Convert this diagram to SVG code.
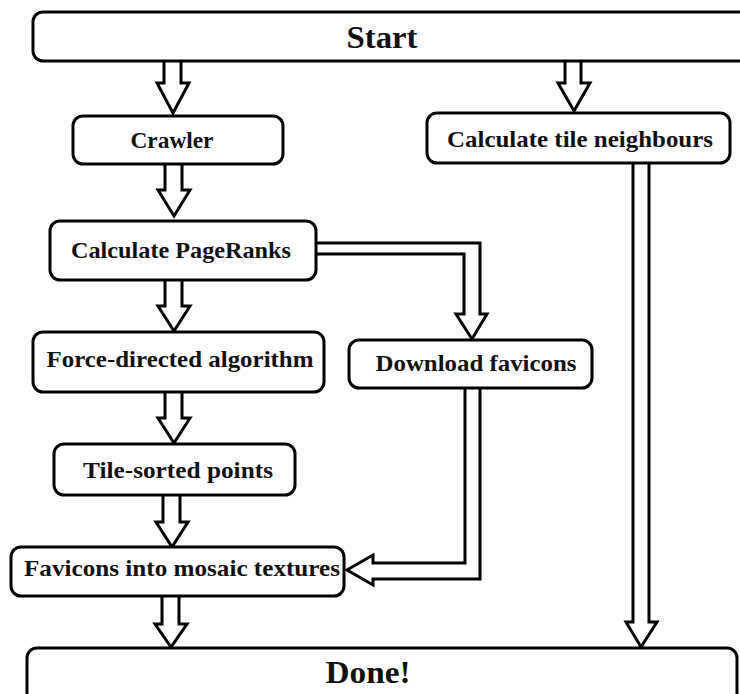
<svg xmlns="http://www.w3.org/2000/svg" width="740" height="694" viewBox="0 0 740 694">
<style>
.box{fill:#fff;stroke:#000;stroke-width:3}
.arr{fill:#fff;stroke:#000;stroke-width:3;stroke-linejoin:miter}
.lbl{font-family:"Liberation Serif","DejaVu Serif",serif;font-weight:bold;font-size:23px;fill:#111;text-anchor:middle;dominant-baseline:central}
.big{font-size:31px}
</style>
<rect width="740" height="694" fill="#fff"/>
<g id="connectors">
<path class="arr" d="M164,61 V83 H157 L173,113 L189,83 H181 V61"/>
<path class="arr" d="M565,61 V83 H558 L574,111 L590,83 H581 V61"/>
<path class="arr" d="M165,164 V190 H158 L174,216 L190,190 H182 V164"/>
<path class="arr" d="M165,280 V306 H158 L174,331 L190,306 H182 V280"/>
<path class="arr" d="M165,392 V418 H158 L174,443 L190,418 H182 V392"/>
<path class="arr" d="M163,495 V522 H156 L172,547 L188,522 H180 V495"/>
<path class="arr" d="M162,596 V624 H155 L171,647 L187,624 H179 V596"/>
<path class="arr" d="M316,243 H480 V314 H487 L472,339 L456,314 H464 V254 H316"/>
<path class="arr" d="M465,388 V563 H373 V555 L347,570 L373,585 V579 H480 V388"/>
<path class="arr" d="M633,163 V622 H626 L641,647 L657,622 H649 V163"/>
</g>
<g id="start"><rect class="box" x="33" y="12" width="730" height="49" rx="10"/><text class="lbl big" x="382" y="37" textLength="71" lengthAdjust="spacingAndGlyphs">Start</text></g>
<g id="crawler"><rect class="box" x="73" y="116" width="210" height="48" rx="10"/><text class="lbl" x="172" y="140" textLength="83" lengthAdjust="spacingAndGlyphs">Crawler</text></g>
<g id="neighbours"><rect class="box" x="427" y="113" width="303" height="50" rx="10"/><text class="lbl" x="580" y="139" textLength="266" lengthAdjust="spacingAndGlyphs">Calculate tile neighbours</text></g>
<g id="pagerank"><rect class="box" x="50" y="221" width="266" height="59" rx="10"/><text class="lbl" x="181" y="250" textLength="220" lengthAdjust="spacingAndGlyphs">Calculate PageRanks</text></g>
<g id="force"><rect class="box" x="33" y="332" width="291" height="60" rx="10"/><text class="lbl" x="180" y="359" textLength="267" lengthAdjust="spacingAndGlyphs">Force-directed algorithm</text></g>
<g id="download"><rect class="box" x="349" y="340" width="243" height="48" rx="10"/><text class="lbl" x="476" y="363" textLength="201" lengthAdjust="spacingAndGlyphs">Download favicons</text></g>
<g id="tiles"><rect class="box" x="54" y="444" width="241" height="51" rx="10"/><text class="lbl" x="178" y="470" textLength="190" lengthAdjust="spacingAndGlyphs">Tile-sorted points</text></g>
<g id="mosaic"><rect class="box" x="11" y="547" width="333" height="49" rx="10"/><text class="lbl" x="182" y="568" textLength="316" lengthAdjust="spacingAndGlyphs">Favicons into mosaic textures</text></g>
<g id="done"><rect class="box" x="27" y="648" width="710" height="60" rx="10"/><text class="lbl big" x="368" y="672" textLength="85" lengthAdjust="spacingAndGlyphs">Done!</text></g>
</svg>
